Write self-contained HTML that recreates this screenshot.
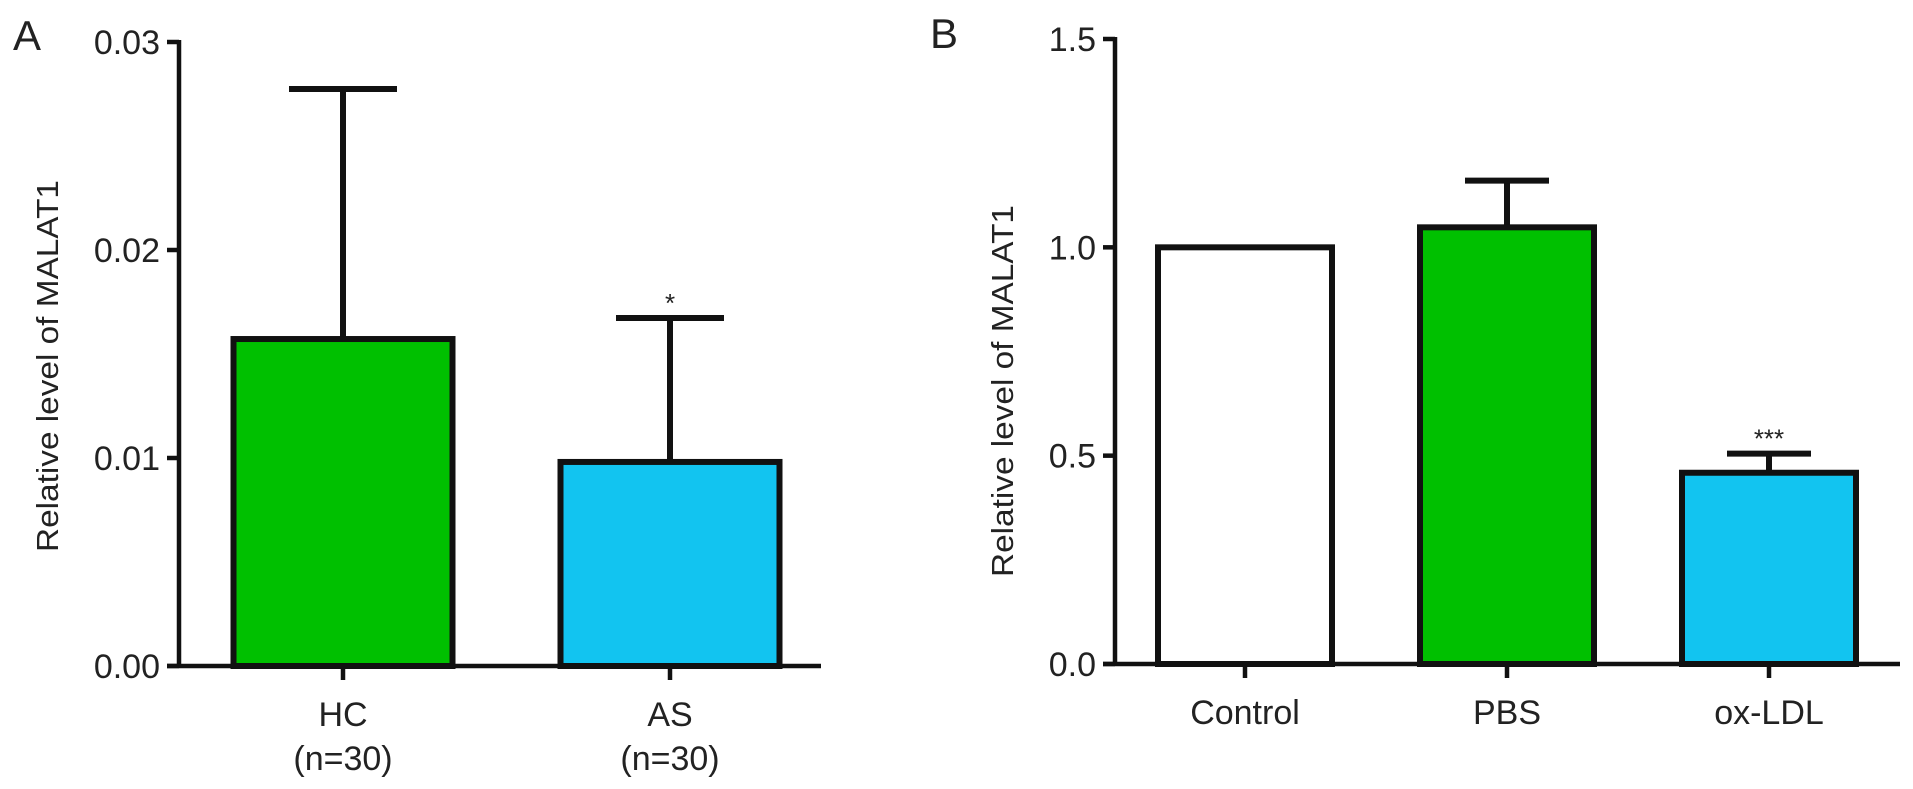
<!DOCTYPE html>
<html><head><meta charset="utf-8"><style>html,body{margin:0;padding:0;background:#fff}svg{display:block}text{font-family:"Liberation Sans",Arial,sans-serif;fill:#222}</style></head>
<body>
<svg id="fig" width="1913" height="789" viewBox="0 0 1913 789" xmlns="http://www.w3.org/2000/svg"></svg>
<script>
// Panel A data
const catsA = ["HC", "AS"];
const subA = ["(n=30)", "(n=30)"];
const valsA = [0.01572, 0.00981];
const errA = [0.02774, 0.01673];
const starsA = ["", "*"];
const ticksA = [0, 0.01, 0.02, 0.03];
const tickLabelsA = ["0.00", "0.01", "0.02", "0.03"];
// Panel B data
const catsB = ["Control", "PBS", "ox-LDL"];
const valsB = [1.0, 1.048, 0.459];
const errB = [null, 1.16, 0.505];
const starsB = ["", "", "***"];
const ticksB = [0, 0.5, 1.0, 1.5];
const tickLabelsB = ["0.0", "0.5", "1.0", "1.5"];

const NS = "http://www.w3.org/2000/svg";
const svg = document.getElementById("fig");
function el(tag, attrs, text) {
  const e = document.createElementNS(NS, tag);
  for (const k in attrs) e.setAttribute(k, attrs[k]);
  if (text !== undefined) e.textContent = text;
  svg.appendChild(e);
  return e;
}
const fills = {green: "#00c000", blue: "#12c4f0", white: "#ffffff"};

function panel(cfg) {
  const y = v => cfg.y0 - (v / cfg.ymax) * (cfg.y0 - cfg.yTop);
  let e;
  e = el("text", {x: cfg.letterX, y: cfg.letterY, "font-size": 42}, cfg.letter);
  
  
  e = el("line", {x1: cfg.ax, y1: y(cfg.ymax) - 2, x2: cfg.ax, y2: cfg.y0 + 2, stroke: "#111", "stroke-width": 4.5});
  
  
  cfg.ticks.forEach((t, i) => {
    const ln = el("line", {x1: cfg.ax - 12, y1: y(t), x2: cfg.ax, y2: y(t), stroke: "#111", "stroke-width": 4.5});
    
    
    const tx = el("text", {x: cfg.ax - 19, y: y(t) + 12, "font-size": 34, "text-anchor": "end"}, cfg.tickLabels[i]);
    
    
  });
  e = el("text", {x: 0, y: 0, "font-size": 31, "text-anchor": "middle", textLength: 372, lengthAdjust: "spacingAndGlyphs",
    transform: `translate(${cfg.titleX},${cfg.titleY}) rotate(-90)`}, "Relative level of MALAT1");
  
  
  cfg.cats.forEach((c, i) => {
    const cx = cfg.x0 + i * cfg.step;
    const top = y(cfg.vals[i]);
    if (cfg.errs[i] != null) {
      const et = y(cfg.errs[i]);
      const l = el("line", {x1: cx, y1: top, x2: cx, y2: et, stroke: "#111", "stroke-width": 6});
      
      
      const cap = el("line", {x1: cx - cfg.cap, y1: et, x2: cx + cfg.cap, y2: et, stroke: "#111", "stroke-width": 6});
      
      
    }
    const r = el("rect", {x: cx - cfg.bw / 2, y: top, width: cfg.bw, height: cfg.y0 - top, fill: fills[cfg.colors[i]], stroke: "#111", "stroke-width": 6});
    
    
    if (cfg.stars[i]) {
      const st = el("text", {x: cx, y: y(cfg.errs[i]) - 6, "font-size": 26, "text-anchor": "middle"}, cfg.stars[i]);
      
      
    }
    const tk = el("line", {x1: cx, y1: cfg.y0, x2: cx, y2: cfg.y0 + 14, stroke: "#111", "stroke-width": 4.5});
    
    
    const lb = el("text", {x: cx, y: cfg.y0 + 60, "font-size": 34, "text-anchor": "middle"}, c);
    
    
    if (cfg.sub) {
      const sb = el("text", {x: cx, y: cfg.y0 + 104, "font-size": 34, "text-anchor": "middle"}, cfg.sub[i]);
      
      
    }
  });
  e = el("line", {x1: cfg.ax - 12, y1: cfg.y0, x2: cfg.axEnd, y2: cfg.y0, stroke: "#111", "stroke-width": 4.5});
  
  
}

panel({letter: "A", letterX: 13, letterY: 50, ax: 179, y0: 666, yTop: 42, ymax: 0.03, axEnd: 821,
  ticks: ticksA, tickLabels: tickLabelsA, titleX: 58, titleY: 366,
  cats: catsA, sub: subA, vals: valsA, errs: errA, stars: starsA, colors: ["green", "blue"],
  x0: 343, step: 327, bw: 219, cap: 54});
panel({letter: "B", letterX: 930, letterY: 48, ax: 1115, y0: 664, yTop: 39, ymax: 1.5, axEnd: 1900,
  ticks: ticksB, tickLabels: tickLabelsB, titleX: 1013, titleY: 391,
  cats: catsB, sub: null, vals: valsB, errs: errB, stars: starsB, colors: ["white", "green", "blue"],
  x0: 1245, step: 262, bw: 174, cap: 42});
</script>
</body></html>
